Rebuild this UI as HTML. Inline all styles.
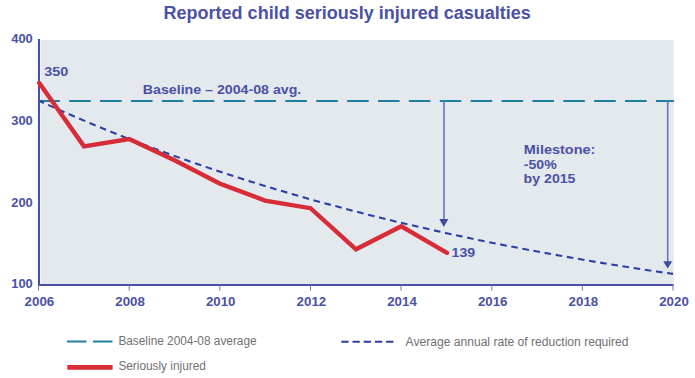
<!DOCTYPE html>
<html><head><meta charset="utf-8">
<style>
html,body{margin:0;padding:0;background:#fff;}
body{width:695px;height:378px;overflow:hidden;}
svg{display:block;}
text{font-family:"Liberation Sans",sans-serif;}
.b{font-weight:bold;fill:#4a51a6;}
.ax{font-size:13px;}
.lg{font-size:13.7px;fill:#707073;}
</style></head>
<body>
<svg width="695" height="378" viewBox="0 0 695 378">
<!-- title -->
<text class="b" x="163.6" y="18.5" font-size="17.5" textLength="367.2" lengthAdjust="spacingAndGlyphs">Reported child seriously injured casualties</text>
<!-- plot bg -->
<rect x="40.8" y="40" width="633" height="244.5" fill="#e4e9ee"/>
<!-- baseline dashed -->
<line x1="40" y1="101" x2="673.8" y2="101" stroke="#1f7fa0" stroke-width="2.2" stroke-dasharray="21.6 9.28" stroke-dashoffset="1.68"/>
<!-- arrows -->
<line x1="444" y1="101" x2="444" y2="220" stroke="#6b73b8" stroke-width="1.6"/>
<polygon points="439.3,219 448.3,219 443.8,227" fill="#3f4aa4"/>
<line x1="667.7" y1="101" x2="667.7" y2="262" stroke="#6b73b8" stroke-width="1.6"/>
<polygon points="663.2,261.2 672.2,261.2 667.7,268.6" fill="#3f4aa4"/>
<!-- reduction curve -->
<path d="M39.0,100.8 L55.3,108.1 L71.5,115.3 L87.8,122.2 L104.0,129.0 L120.3,135.5 L136.5,141.9 L152.8,148.0 L169.1,154.0 L185.3,159.8 L201.6,165.5 L217.8,171.0 L234.1,176.3 L250.3,181.4 L266.6,186.5 L282.8,191.3 L299.1,196.1 L315.4,200.7 L331.6,205.1 L347.9,209.4 L364.1,213.7 L380.4,217.7 L396.6,221.7 L412.9,225.5 L429.2,229.3 L445.4,232.9 L461.7,236.4 L477.9,239.9 L494.2,243.2 L510.4,246.4 L526.7,249.5 L542.9,252.6 L559.2,255.5 L575.5,258.4 L591.7,261.2 L608.0,263.9 L624.2,266.5 L640.5,269.1 L656.7,271.5 L673.0,273.9" fill="none" stroke="#2c3fa3" stroke-width="2.1" stroke-dasharray="6.6 4.69" stroke-dashoffset="1.29"/>
<!-- axes -->
<line x1="39" y1="39" x2="39" y2="285.5" stroke="#4850a8" stroke-width="2.1"/>
<line x1="38" y1="284.9" x2="673.5" y2="284.9" stroke="#4850a8" stroke-width="2"/>
<g stroke="#6b73b8" stroke-width="1">
<line x1="38.5" y1="285" x2="38.5" y2="290.5"/>
<line x1="129.2" y1="285" x2="129.2" y2="290.5"/>
<line x1="219.8" y1="285" x2="219.8" y2="290.5"/>
<line x1="310.5" y1="285" x2="310.5" y2="290.5"/>
<line x1="401.1" y1="285" x2="401.1" y2="290.5"/>
<line x1="491.8" y1="285" x2="491.8" y2="290.5"/>
<line x1="582.4" y1="285" x2="582.4" y2="290.5"/>
<line x1="673" y1="285" x2="673" y2="290.5"/>
</g>
<!-- red line -->
<path d="M39.3,83 L84,146.3 L129.2,139 L174.6,160.3 L219.6,183.5 L265,200.6 L310.5,208.2 L356,249.3 L401.3,226.3 L447,252.8" fill="none" stroke="#d72b38" stroke-width="4.4" stroke-linejoin="miter" stroke-linecap="round"/>
<!-- y labels -->
<g class="b ax" text-anchor="end">
<text x="32.8" y="43" textLength="21.6" lengthAdjust="spacingAndGlyphs">400</text>
<text x="32.8" y="124.8" textLength="21.6" lengthAdjust="spacingAndGlyphs">300</text>
<text x="32.8" y="206.6" textLength="21.6" lengthAdjust="spacingAndGlyphs">200</text>
<text x="32.8" y="288.4" textLength="21.6" lengthAdjust="spacingAndGlyphs">100</text>
</g>
<g class="b ax" text-anchor="middle">
<text x="39.4" y="306.3" textLength="29.6" lengthAdjust="spacingAndGlyphs">2006</text>
<text x="130.1" y="306.3" textLength="29.6" lengthAdjust="spacingAndGlyphs">2008</text>
<text x="220.7" y="306.3" textLength="29.6" lengthAdjust="spacingAndGlyphs">2010</text>
<text x="311.4" y="306.3" textLength="29.6" lengthAdjust="spacingAndGlyphs">2012</text>
<text x="402.0" y="306.3" textLength="29.6" lengthAdjust="spacingAndGlyphs">2014</text>
<text x="492.7" y="306.3" textLength="29.6" lengthAdjust="spacingAndGlyphs">2016</text>
<text x="583.4" y="306.3" textLength="29.6" lengthAdjust="spacingAndGlyphs">2018</text>
<text x="674.0" y="306.3" textLength="29.6" lengthAdjust="spacingAndGlyphs">2020</text>
</g>
<text class="b ax" x="44.2" y="76.2" textLength="24" lengthAdjust="spacingAndGlyphs">350</text>
<text class="b ax" x="451.6" y="256.8" textLength="23.6" lengthAdjust="spacingAndGlyphs">139</text>
<text class="b ax" x="142.8" y="93.8" textLength="158.5" lengthAdjust="spacingAndGlyphs">Baseline – 2004-08 avg.</text>
<g class="b" font-size="13.2">
<text x="523.8" y="153.7" textLength="71.6" lengthAdjust="spacingAndGlyphs">Milestone:</text>
<text x="523.8" y="168.9" textLength="32.9" lengthAdjust="spacingAndGlyphs">-50%</text>
<text x="523.6" y="183.3" textLength="51.9" lengthAdjust="spacingAndGlyphs">by 2015</text>
</g>
<!-- legend -->
<line x1="67" y1="341.5" x2="113" y2="341.5" stroke="#1f7fa0" stroke-width="2.2" stroke-dasharray="19.5 6.5"/>
<line x1="67.3" y1="367.3" x2="112.6" y2="367.3" stroke="#d72b38" stroke-width="4.8"/>
<line x1="341.3" y1="341.8" x2="394" y2="341.8" stroke="#2c3fa3" stroke-width="2.1" stroke-dasharray="7.3 3.9"/>
<text class="lg" x="118.4" y="344.7" textLength="138.2" lengthAdjust="spacingAndGlyphs">Baseline 2004-08 average</text>
<text class="lg" x="118.4" y="370.2" textLength="87.4" lengthAdjust="spacingAndGlyphs">Seriously injured</text>
<text class="lg" x="405.6" y="345.7" textLength="222.9" lengthAdjust="spacingAndGlyphs">Average annual rate of reduction required</text>
</svg>
</body></html>
